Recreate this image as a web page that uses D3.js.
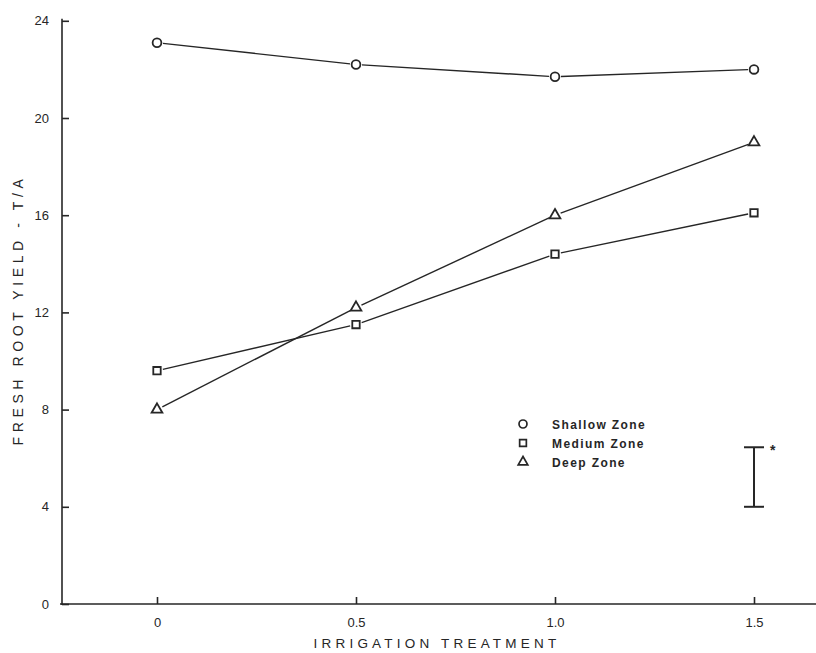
<!DOCTYPE html>
<html>
<head>
<meta charset="utf-8">
<script src="https://cdn.jsdelivr.net/npm/d3@7"></script>
<style>
  body { margin: 0; background: #fff; }
  svg { display: block; font-family: "Liberation Sans", "DejaVu Sans", sans-serif; }
</style>
</head>
<body>
<div id="chart"></div>
<script>
// irrigation levels and yields (T/A) per root zone
var treatments = [0, 0.5, 1.0, 1.5];
var shallowZone = [23.1, 22.2, 21.7, 22.0];
var mediumZone = [9.6, 11.5, 14.4, 16.1];
var deepZone = [8.0, 12.2, 16.0, 19.0];
var seriesNames = ["Shallow Zone", "Medium Zone", "Deep Zone"];
var xTickLabels = ["0", "0.5", "1.0", "1.5"];
var yTicks = [0, 4, 8, 12, 16, 20, 24];
var lsdBar = { x: 1.5, low: 4.0, high: 6.45 };

var width = 816,
    height = 653;
var ink = "#262626";

var svg = d3.select("#chart").append("svg")
    .attr("width", width)
    .attr("height", height);

var x = d3.scaleLinear().domain([0, 1.5]).range([157, 754]);
var y = d3.scaleLinear().domain([0, 20]).range([604, 118]);

// axes
var xAxis = d3.axisBottom(x)
    .tickValues(treatments)
    .tickFormat(function(d, i) { return xTickLabels[i]; })
    .tickSize(-7)
    .tickSizeOuter(0)
    .tickPadding(14);

var gx = svg.append("g")
    .attr("transform", "translate(0," + y(0) + ")")
    .call(xAxis);
gx.select(".domain").attr("d", "M60,0H816");

var yAxis = d3.axisLeft(y)
    .tickValues(yTicks)
    .tickSize(-7)
    .tickSizeOuter(0)
    .tickPadding(13);

var gy = svg.append("g")
    .attr("transform", "translate(62,0)")
    .call(yAxis);
gy.select(".domain").attr("d", "M0," + (y(24) - 2) + "V" + (y(0) + 1));

svg.selectAll(".domain, .tick line")
    .attr("stroke", ink)
    .attr("stroke-width", 1.6);
svg.selectAll(".tick text")
    .attr("fill", ink)
    .style("font-size", "13px");

// axis titles
svg.append("text")
    .attr("x", 437)
    .attr("y", 648)
    .attr("text-anchor", "middle")
    .attr("fill", ink)
    .style("font-size", "13.5px")
    .style("letter-spacing", "4.2px")
    .text("IRRIGATION  TREATMENT");

svg.append("text")
    .attr("transform", "translate(23,310) rotate(-90)")
    .attr("text-anchor", "middle")
    .attr("fill", ink)
    .style("font-size", "14px")
    .style("letter-spacing", "4.6px")
    .text("FRESH  ROOT  YIELD  -  T/A");

// series
var series = [
  { name: seriesNames[0], values: shallowZone, shape: d3.symbolCircle, size: 60 },
  { name: seriesNames[1], values: mediumZone, shape: d3.symbolSquare, size: 55 },
  { name: seriesNames[2], values: deepZone, shape: d3.symbolTriangle, size: 50 }
];

var gap = 6; // lines stop short of the markers
series.forEach(function(s) {
  var pts = s.values.map(function(v, i) { return [x(treatments[i]), y(v)]; });
  for (var i = 0; i < pts.length - 1; i++) {
    var a = pts[i], b = pts[i + 1];
    var dx = b[0] - a[0], dy = b[1] - a[1];
    var len = Math.sqrt(dx * dx + dy * dy);
    var ux = dx / len, uy = dy / len;
    svg.append("line")
      .attr("x1", a[0] + ux * gap)
      .attr("y1", a[1] + uy * gap)
      .attr("x2", b[0] - ux * gap)
      .attr("y2", b[1] - uy * gap)
      .attr("stroke", ink)
      .attr("stroke-width", 1.4);
  }
  svg.selectAll(null)
    .data(pts)
    .enter()
      .append("path")
      .attr("d", d3.symbol().type(s.shape).size(s.size))
      .attr("transform", function(p) { return "translate(" + p[0] + "," + p[1] + ")"; })
      .attr("fill", "none")
      .attr("stroke", ink)
      .attr("stroke-width", 1.8);
});

// legend
var legend = svg.append("g")
    .attr("transform", "translate(523,424)");
series.forEach(function(s, i) {
  var row = legend.append("g").attr("transform", "translate(0," + (i * 19) + ")");
  row.append("path")
    .attr("d", d3.symbol().type(s.shape).size(s.size - 10))
    .attr("fill", "none")
    .attr("stroke", ink)
    .attr("stroke-width", 1.7);
  row.append("text")
    .attr("x", 29)
    .attr("y", 4.5)
    .attr("fill", ink)
    .style("font-size", "12px")
    .style("font-weight", "bold")
    .style("letter-spacing", "1.4px")
    .text(s.name);
});

// least significant difference bar
var bx = x(lsdBar.x);
svg.append("line")
    .attr("x1", bx).attr("x2", bx)
    .attr("y1", y(lsdBar.high)).attr("y2", y(lsdBar.low))
    .attr("stroke", ink).attr("stroke-width", 2);
[lsdBar.high, lsdBar.low].forEach(function(v) {
  svg.append("line")
    .attr("x1", bx - 10).attr("x2", bx + 10)
    .attr("y1", y(v)).attr("y2", y(v))
    .attr("stroke", ink).attr("stroke-width", 2);
});
svg.append("text")
    .attr("x", bx + 16)
    .attr("y", y(lsdBar.high) + 8)
    .attr("fill", ink)
    .style("font-size", "14px")
    .style("font-weight", "bold")
    .text("*");
</script>
</body>
</html>
